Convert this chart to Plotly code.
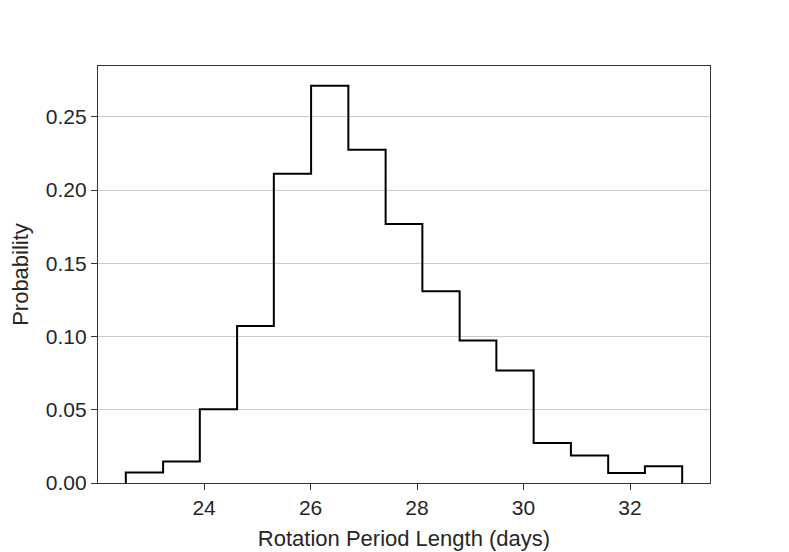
import plotly.graph_objects as go

# Histogram bin edges (days) and probability density per bin
bin_edges = [22.53, 23.23, 23.92, 24.62, 25.31, 26.01, 26.71, 27.41,
             28.10, 28.80, 29.49, 30.19, 30.89, 31.59, 32.28, 32.98]
probabilities = [0.0071, 0.0146, 0.0503, 0.1072, 0.2111, 0.2712, 0.2275, 0.1769,
                 0.1309, 0.0973, 0.0768, 0.0273, 0.0187, 0.0068, 0.0114]
x_ticks = [24, 26, 28, 30, 32]
y_ticks = [0.00, 0.05, 0.10, 0.15, 0.20, 0.25]

# step outline (matplotlib histtype='step')
step_x = [bin_edges[0]] + bin_edges
step_y = [0] + probabilities + [0]

fig = go.Figure()
fig.add_trace(go.Scatter(
    x=step_x, y=step_y, mode="lines", line_shape="hv",
    line=dict(color="black", width=2), showlegend=False, hoverinfo="skip"))

span = bin_edges[-1] - bin_edges[0]
ymax = max(probabilities) * 1.05
font = "Arial, Liberation Sans, Helvetica, sans-serif"

fig.update_layout(
    width=781, height=544,
    margin=dict(l=90, r=79, t=58, b=69, autoexpand=False),
    paper_bgcolor="white", plot_bgcolor="white",
    font=dict(family=font, color="#262626", size=22),
    xaxis=dict(
        automargin=False,
        range=[bin_edges[0] - 0.05 * span, bin_edges[-1] + 0.05 * span],
        tickvals=x_ticks, ticktext=[str(t) for t in x_ticks],
        ticks="outside", ticklen=6, tickwidth=1.25, tickcolor="#333333",
        showline=True, linecolor="#333333", linewidth=1.4, mirror=True,
        showgrid=False, zeroline=False,
        tickfont=dict(size=21),
        title=dict(text="Rotation Period Length (days)", font=dict(size=22), standoff=12),
    ),
    yaxis=dict(
        automargin=False,
        range=[0, ymax],
        tickvals=y_ticks, ticktext=[f"{t:.2f}" for t in y_ticks],
        ticks="outside", ticklen=6, tickwidth=1.25, tickcolor="#333333",
        showline=True, linecolor="#333333", linewidth=1.4, mirror=True,
        showgrid=True, gridcolor="#cccccc", gridwidth=1.2, zeroline=False,
        tickfont=dict(size=21),
        title=dict(text="Probability", font=dict(size=22), standoff=16),
    ),
)

fig.write_html("out.html")
